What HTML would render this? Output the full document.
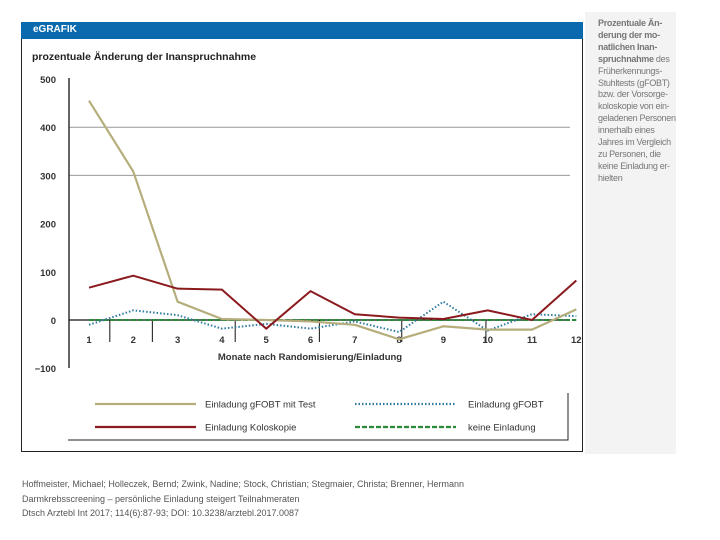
<!DOCTYPE html>
<html><head><meta charset="utf-8"><style>
body{margin:0;width:720px;height:540px;background:#fff;font-family:"Liberation Sans",sans-serif;position:relative;overflow:hidden}
.abs{position:absolute}
</style></head><body>
<div class="abs" style="left:585px;top:12px;width:91px;height:442px;background:#f3f3f3"></div>
<div class="abs" style="left:598px;top:18px;width:80px;font-size:9px;line-height:11.9px;color:#777;letter-spacing:-0.3px"><b>Prozentuale Än­derung der mo­natlichen Inan­spruchnahme</b> des Früherkennungs-Stuhltests (gFOBT) bzw. der Vorsorge­koloskopie von ein­geladenen Perso­nen innerhalb eines Jahres im Vergleich zu Personen, die keine Einladung er­hielten</div>
<div class="abs" style="left:21px;top:22px;width:560px;height:429px;border:1px solid #222;border-top:none"></div>
<div class="abs" style="left:21px;top:22px;width:562px;height:17px;background:#0a6aad"></div>
<div class="abs" style="left:33px;top:24px;font-size:10px;font-weight:bold;color:#fff">eGRAFIK</div>
<div class="abs" style="left:32px;top:51px;font-size:10.5px;font-weight:bold;color:#222">prozentuale Änderung der Inanspruchnahme</div>
<svg class="abs" style="left:0;top:0" width="720" height="540" id="chart"></svg>
<div class="abs" style="left:22px;top:477px;font-size:9px;line-height:14.7px;color:#555">Hoffmeister, Michael; Holleczek, Bernd; Zwink, Nadine; Stock, Christian; Stegmaier, Christa; Brenner, Hermann<br>Darmkrebsscreening – persönliche Einladung steigert Teilnahmeraten<br>Dtsch Arztebl Int 2017; 114(6):87-93; DOI: 10.3238/arztebl.2017.0087</div>
<script>
const months=[1,2,3,4,5,6,7,8,9,10,11,12];
const yTicks=[500,400,300,200,100,0,-100];
const yTickLabels=["500","400","300","200","100","0","−100"];
const gfobtTest=[455,308,38,2,0,-3,-10,-40,-13,-20,-20,22];
const koloskopie=[67,92,65,63,-18,60,12,5,2,20,0,82];
const gfobt=[-10,20,10,-18,-8,-18,-3,-25,38,-22,12,8];
const keine=[0,0,0,0,0,0,0,0,0,0,0,0];
const NS='http://www.w3.org/2000/svg';
const svg=document.getElementById('chart');
const x=m=>89+(m-1)*44.3;
const y=v=>320-v*0.482;
function mk(t,a,p){const e=document.createElementNS(NS,t);for(const k in a)e.setAttribute(k,a[k]);(p||svg).appendChild(e);return e;}
[400,300].forEach(v=>{const l=mk('line',{x1:69,x2:570,y1:y(v),y2:y(v),stroke:'#999','stroke-width':1});

});
yTicks.forEach((v,i)=>{const t=mk('text',{x:56,y:y(v)+4,'text-anchor':'end','font-size':9.5,'font-weight':'bold',fill:'#333'});t.textContent=yTickLabels[i];

});
const ya=mk('line',{x1:69,x2:69,y1:78,y2:368,stroke:'#111','stroke-width':1.3});


const xa=mk('line',{x1:69,x2:570,y1:y(0),y2:y(0),stroke:'#111','stroke-width':1.3});


[1.47,2.43,4.3,6.2,8.06,9.96].forEach(p=>{const l=mk('line',{x1:x(p),x2:x(p),y1:y(0),y2:342,stroke:'#111','stroke-width':1});

});
months.forEach(m=>{const t=mk('text',{x:x(m),y:343,'text-anchor':'middle','font-size':9.5,'font-weight':'bold',fill:'#333'});t.textContent=m;

});
const xt=mk('text',{x:310,y:360,'text-anchor':'middle','font-size':9.5,'font-weight':'bold',fill:'#333'});xt.textContent='Monate nach Randomisierung/Einladung';


function series(d,st,w,dash,name){const p=mk('polyline',{points:d.map((v,i)=>x(months[i])+','+y(v)).join(' '),fill:'none',stroke:st,'stroke-width':w,'stroke-dasharray':dash||'none','stroke-linejoin':'round'});

}
series(keine,'#2a8a3a',2,'5,2','line-keine-einladung');
series(gfobt,'#2f7a9e',2,'1.5,2','line-gfobt');
series(gfobtTest,'#b5ae7c',2.2,null,'line-gfobt-mit-test');
series(koloskopie,'#8b1a1e',2,null,'line-koloskopie');
const lf=mk('polyline',{points:'68,440 568,440 568,393',fill:'none',stroke:'#222','stroke-width':1});


const leg=[['Einladung gFOBT mit Test','#b5ae7c',null,95,404,205],['Einladung gFOBT','#2f7a9e','1.5,2',355,404,468],['Einladung Koloskopie','#8b1a1e',null,95,427,205],['keine Einladung','#2a8a3a','5,2',355,427,468]];
leg.forEach(e=>{const g=mk('g',{});


mk('line',{x1:e[3],x2:e[3]+101,y1:e[4],y2:e[4],stroke:e[1],'stroke-width':2.2,'stroke-dasharray':e[2]||'none'},g);
const t=mk('text',{x:e[5],y:e[4]+3.5,'font-size':9.5,fill:'#333'},g);t.textContent=e[0];});
</script>
</body></html>
